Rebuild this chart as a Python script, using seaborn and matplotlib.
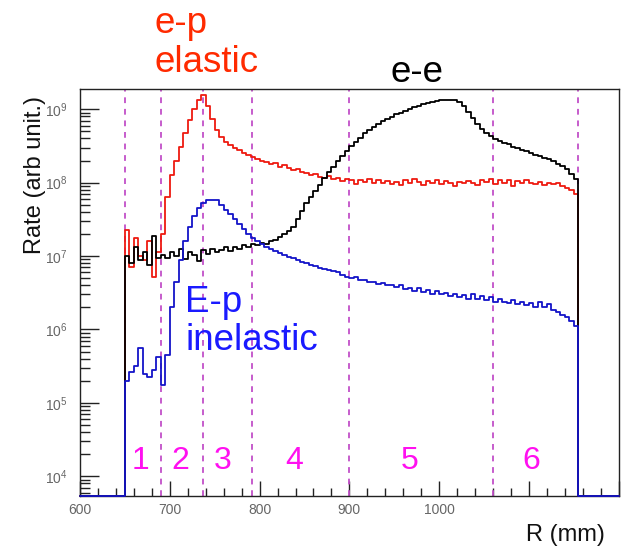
import numpy as np
import pandas as pd
import matplotlib
matplotlib.use("Agg")
import matplotlib.pyplot as plt
from matplotlib.ticker import MultipleLocator, LogLocator, FixedLocator, FixedFormatter
import seaborn as sns

# ---- histogram data: log10(rate) per 5 mm bin, R = 650 ... 1155 mm ----
bin_lo, bin_width = 650.0, 5.0

ep_elastic_log = [
    7.35, 6.85, 7.25, 7.00, 6.95, 7.20, 6.72, 7.05, 7.30, 7.80,
    8.10, 8.30, 8.48, 8.68, 8.85, 9.00, 9.12, 9.20, 9.05, 8.87,
    8.72, 8.62, 8.56, 8.51, 8.47, 8.44, 8.40, 8.37, 8.35, 8.32,
    8.30, 8.28, 8.25, 8.27, 8.22, 8.24, 8.20, 8.17, 8.18, 8.14,
    8.13, 8.10, 8.12, 8.08, 8.07, 8.09, 8.05, 8.06, 8.02, 8.05,
    8.03, 7.98, 8.04, 8.01, 8.05, 7.99, 8.03, 8.00, 8.02, 7.98,
    8.01, 7.97, 8.03, 8.00, 8.05, 8.01, 7.97, 8.02, 8.00, 8.03,
    7.98, 8.02, 8.00, 7.96, 8.01, 7.99, 8.02, 8.00, 7.97, 8.03,
    8.01, 8.05, 7.98, 8.04, 8.00, 8.03, 7.95, 8.02, 7.99, 8.03,
    8.00, 7.98, 8.01, 7.97, 8.00, 7.98, 7.99, 7.96, 7.93, 7.90,
    7.85,
]

ee_log = [
    7.00, 6.90, 7.12, 6.95, 7.05, 6.88, 7.28, 6.97, 7.02, 6.98,
    7.05, 7.00, 7.10, 6.96, 7.06, 7.02, 6.93, 7.08, 7.03, 7.10,
    7.05, 7.08, 7.12, 7.07, 7.13, 7.10, 7.15, 7.13, 7.17, 7.15,
    7.18, 7.17, 7.20, 7.22, 7.26, 7.30, 7.34, 7.40, 7.50, 7.62,
    7.72, 7.80, 7.88, 7.97, 8.06, 8.14, 8.21, 8.29, 8.36, 8.43,
    8.50, 8.55, 8.61, 8.67, 8.72, 8.76, 8.80, 8.84, 8.87, 8.90,
    8.93, 8.95, 8.98, 9.00, 9.03, 9.05, 9.07, 9.09, 9.10, 9.11,
    9.12, 9.12, 9.13, 9.12, 9.10, 9.04, 8.96, 8.88, 8.80, 8.73,
    8.68, 8.64, 8.60, 8.57, 8.54, 8.52, 8.49, 8.47, 8.45, 8.43,
    8.41, 8.38, 8.36, 8.34, 8.32, 8.29, 8.26, 8.23, 8.19, 8.12,
    8.05,
]

ep_inelastic_log = [
    5.30, 5.42, 5.50, 5.75, 5.40, 5.35, 5.45, 5.62, 5.25, 5.65,
    6.30, 6.65, 6.95, 7.20, 7.40, 7.55, 7.66, 7.72, 7.76, 7.77,
    7.76, 7.70, 7.63, 7.57, 7.50, 7.43, 7.37, 7.30, 7.25, 7.20,
    7.16, 7.12, 7.09, 7.07, 7.04, 7.02, 6.99, 6.97, 6.95, 6.92,
    6.90, 6.88, 6.87, 6.84, 6.83, 6.81, 6.79, 6.78, 6.74, 6.72,
    6.70, 6.71, 6.67, 6.68, 6.64, 6.65, 6.62, 6.63, 6.60, 6.61,
    6.58, 6.60, 6.55, 6.57, 6.53, 6.56, 6.51, 6.54, 6.49, 6.52,
    6.48, 6.50, 6.46, 6.49, 6.44, 6.47, 6.42, 6.49, 6.41, 6.45,
    6.40, 6.44, 6.37, 6.42, 6.38, 6.36, 6.40, 6.35, 6.38, 6.33,
    6.36, 6.31, 6.38, 6.30, 6.35, 6.27, 6.24, 6.20, 6.17, 6.12,
    6.05,
]

series_names = ["e-p elastic", "e-e", "E-p inelastic"]
series_logs = [ep_elastic_log, ee_log, ep_inelastic_log]
series_colors = {"e-p elastic": "#ee1a10", "e-e": "#000000", "E-p inelastic": "#1414c8"}

# region boundaries (mm) and region numbers
region_edges = [650, 690, 737, 792, 900, 1060, 1155]
region_labels = ["1", "2", "3", "4", "5", "6"]
region_label_x = [667, 712, 759, 838, 967, 1103]

x_range = (600, 1200)
y_range = (5.4e3, 1.9e9)
x_tick_values = [600, 700, 800, 900, 1000, 1100, 1200]
x_tick_labels = ["600", "700", "800", "900", "1000", "", ""]

# ---- long table for seaborn: step outline, empty outside the histogram ----
rows = []
for name, logs in zip(series_names, series_logs):
    n = len(logs)
    edges = bin_lo + bin_width * np.arange(n + 1)
    xs = [x_range[0]] + list(edges) + [x_range[1]]
    ys = [y_range[0]] + [10.0 ** v for v in logs] + [y_range[0], y_range[0]]
    for xv, yv in zip(xs, ys):
        rows.append({"R": xv, "rate": yv, "process": name})
df = pd.DataFrame(rows)

sns.set_style("white")
plt.rcParams["font.family"] = ["Liberation Sans", "DejaVu Sans"]

fig = plt.figure(figsize=(6.25, 5.48), dpi=100)
ax = fig.add_axes([0.128, 0.095, 0.862, 0.743])
ax.set_yscale("log")

sns.lineplot(data=df, x="R", y="rate", hue="process", hue_order=series_names,
             palette=series_colors, estimator=None, sort=False,
             drawstyle="steps-post", linewidth=1.3, legend=False, ax=ax,
             zorder=3, clip_on=False)

for xv in region_edges:
    ax.axvline(xv, color="#c24fc8", linestyle=(0, (3.2, 3.2)), linewidth=1.3, zorder=1)

for lab, xv in zip(region_labels, region_label_x):
    ax.text(xv, 1.6e4, lab, color="#ff10f0", fontsize=23, ha="center", va="center")

ax.set_xlim(*x_range)
ax.set_ylim(*y_range)

ax.xaxis.set_major_locator(FixedLocator(x_tick_values))
ax.xaxis.set_major_formatter(FixedFormatter(x_tick_labels))
ax.xaxis.set_minor_locator(MultipleLocator(20))
ax.yaxis.set_major_locator(LogLocator(base=10, numticks=12))
ax.yaxis.set_minor_locator(LogLocator(base=10, subs=np.arange(2, 10), numticks=12))

ax.tick_params(axis="both", which="both", direction="in", top=False, right=False,
               bottom=True, left=True, colors="#222222", labelcolor="#666666",
               labelsize=10, width=1.0)
ax.tick_params(axis="y", which="major", length=14, pad=9)
ax.tick_params(axis="y", which="minor", length=7)
ax.tick_params(axis="x", which="major", length=11, pad=5)
ax.tick_params(axis="x", which="minor", length=6)

for sp in ax.spines.values():
    sp.set_color("#222222")
    sp.set_linewidth(1.0)

ax.set_xlabel("")
ax.set_ylabel("")
fig.text(0.904, 0.023, "R (mm)", fontsize=17, ha="center", va="center", color="#111111")
fig.text(0.056, 0.68, "Rate (arb unit.)", fontsize=17, rotation=90,
         ha="center", va="center", color="#111111")

fig.text(0.248, 0.868, "e-p\nelastic", fontsize=26.5, color="#ff2a00",
         ha="left", va="baseline", linespacing=1.15)
fig.text(0.624, 0.850, "e-e", fontsize=26.5, color="#000000", ha="left", va="baseline")
fig.text(0.296, 0.361, "E-p\ninelastic", fontsize=26.5, color="#1a1aff",
         ha="left", va="baseline", linespacing=1.12)

fig.savefig("out.png", dpi=100, facecolor="white")
